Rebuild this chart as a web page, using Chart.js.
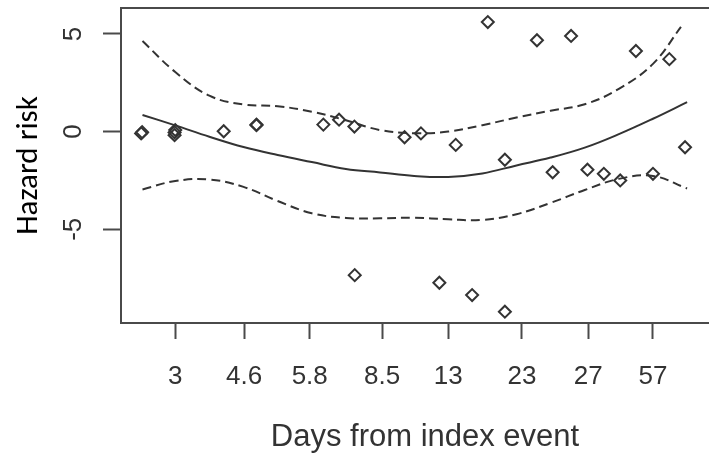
<!DOCTYPE html>
<html>
<head>
    <title>Hazard risk</title>
    <script src="https://cdn.jsdelivr.net/npm/chart.js"></script>
    <style>
        body { margin: 0; overflow: hidden; background: #fff; }
        #wrap { width: 737px; height: 461px; }
    </style>
</head>
<body>
    <div id="wrap"><canvas id="hazChart" width="737" height="461"></canvas></div>
    <script>
        // x is the position along the (rank-like) days axis; ticks sit at these positions
        const xTickPos = [1.0, 2.01, 2.97, 4.03, 5.0, 6.08, 7.05, 8.0];
        const xTickLabels = ["3", "4.6", "5.8", "8.5", "13", "23", "27", "57"];
        const yTicks = [-5, 0, 5];

        // observed points
        const pointX = [0.50, 0.515, 0.99, 0.99, 1.0, 1.71, 2.19, 2.19, 3.17, 3.40, 3.625, 3.63, 4.36, 4.60, 4.87, 5.11,
                        5.35, 5.58, 5.83, 5.83, 6.30, 6.53, 6.80, 7.04, 7.28, 7.52, 7.75, 8.0, 8.24, 8.47];
        const pointY = [-0.09, -0.03, -0.04, -0.18, 0.08, 0.02, 0.36, 0.33, 0.36, 0.61, 0.26, -7.35, -0.29, -0.09, -7.74, -0.68,
                        -8.37, 5.61, -1.44, -9.22, 4.68, -2.08, 4.90, -1.95, -2.16, -2.50, 4.13, -2.16, 3.71, -0.80];

        // smooth fit and its confidence band
        const curveX = [0.52, 1, 1.5, 2, 2.5, 3, 3.5, 4, 4.5, 5, 5.5, 6, 6.5, 7, 7.5, 8, 8.5];
        const fitY = [0.85, 0.32, -0.26, -0.79, -1.20, -1.56, -1.91, -2.09, -2.27, -2.32, -2.14, -1.73, -1.33, -0.82, -0.13, 0.66, 1.51];
        const upperX = [0.52, 1, 1.5, 2, 2.5, 3, 3.5, 4, 4.5, 5, 5.5, 6, 6.5, 7, 7.5, 8, 8.41];
        const upperY = [4.64, 3.05, 1.84, 1.39, 1.30, 1.02, 0.58, 0.08, -0.08, 0.00, 0.33, 0.72, 1.07, 1.40, 2.19, 3.47, 5.36];
        const lowerY = [-2.96, -2.53, -2.45, -2.83, -3.55, -4.18, -4.42, -4.44, -4.41, -4.49, -4.52, -4.23, -3.65, -2.99, -2.42, -2.27, -2.91];

        const toXY = (xs, ys) => xs.map((x, i) => ({ x: x, y: ys[i] }));
        const ink = '#333';
        const frame = '#4a4a4a';

        // top edge of the plot box (R draws a full frame)
        const boxTop = {
            id: 'boxTop',
            afterDraw(chart) {
                const a = chart.chartArea, ctx = chart.ctx;
                ctx.save();
                ctx.strokeStyle = frame;
                ctx.lineWidth = 2;
                ctx.beginPath();
                ctx.moveTo(a.left, a.top);
                ctx.lineTo(a.right, a.top);
                ctx.stroke();
                ctx.restore();
            }
        };

        const lineDs = (data, dash) => ({
            type: 'line',
            data: data,
            showLine: true,
            borderColor: ink,
            borderWidth: 2,
            borderDash: dash,
            pointRadius: 0,
            tension: 0.4,
            fill: false
        });

        new Chart(document.getElementById("hazChart"), {
            type: 'scatter',
            data: {
                datasets: [
                    lineDs(toXY(curveX, fitY), []),
                    lineDs(toXY(upperX, upperY), [9, 5]),
                    lineDs(toXY(curveX, lowerY), [9, 5]),
                    {
                        data: toXY(pointX, pointY),
                        pointStyle: 'rectRot',
                        pointRadius: 6,
                        pointBorderWidth: 2,
                        pointBorderColor: ink,
                        pointBackgroundColor: 'rgba(255,255,255,0)'
                    }
                ]
            },
            options: {
                responsive: false,
                animation: false,
                layout: { padding: { left: 0, right: 0, top: 7, bottom: 0 } },
                plugins: { legend: { display: false }, tooltip: { enabled: false } },
                scales: {
                    x: {
                        type: 'linear',
                        min: 0.205,
                        max: 9.114,
                        afterBuildTicks: s => { s.ticks = xTickPos.map(v => ({ value: v })); },
                        afterFit: s => { s.height = 138; s.paddingLeft = 0; s.paddingRight = 0; },
                        grid: { drawOnChartArea: false, drawTicks: true, tickLength: 16, tickColor: frame, tickWidth: 2 },
                        border: { display: true, color: frame, width: 2 },
                        ticks: {
                            padding: 22,
                            maxRotation: 0,
                            color: '#333',
                            font: { family: 'Liberation Sans, Arial, sans-serif', size: 26 },
                            callback: (v, i) => xTickLabels[i]
                        },
                        title: {
                            display: true,
                            text: 'Days from index event',
                            color: '#333',
                            font: { family: 'Liberation Sans, Arial, sans-serif', size: 31 },
                            padding: { top: 0, bottom: 5 }
                        }
                    },
                    y: {
                        type: 'linear',
                        min: -9.80,
                        max: 6.33,
                        afterBuildTicks: s => { s.ticks = yTicks.map(v => ({ value: v })); },
                        afterFit: s => { s.width = 121; s.paddingTop = 0; s.paddingBottom = 0; },
                        grid: { drawOnChartArea: false, drawTicks: true, tickLength: 18, tickColor: frame, tickWidth: 2 },
                        border: { display: true, color: frame, width: 2 },
                        ticks: {
                            padding: 18,
                            minRotation: 90,
                            maxRotation: 90,
                            crossAlign: 'center',
                            color: '#333',
                            font: { family: 'Liberation Sans, Arial, sans-serif', size: 26 },
                            callback: v => String(v)
                        },
                        title: {
                            display: true,
                            text: 'Hazard risk',
                            color: '#000',
                            font: { family: 'Calibri, Carlito, Lato, sans-serif', size: 31 },
                            padding: { top: 11, bottom: 0 }
                        }
                    }
                }
            },
            plugins: [boxTop]
        });
    </script>
</body>
</html>
